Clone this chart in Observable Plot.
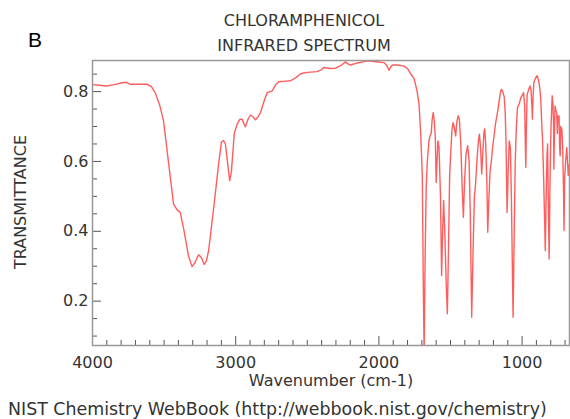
<!DOCTYPE html>
<html><head><meta charset="utf-8">
<script src="https://cdn.jsdelivr.net/npm/d3@7"></script>
<script src="https://cdn.jsdelivr.net/npm/@observablehq/plot@0.6"></script>
<style>
body{margin:0;background:#fff;}
#wrap{position:relative;width:570px;height:419px;overflow:hidden;font-family:"DejaVu Sans",sans-serif;color:#333;}
.t{position:absolute;white-space:nowrap;line-height:16px;font-size:16px;}
#chart{position:absolute;left:0;top:0;}
</style></head><body><div id="wrap">
<div id="chart"></div>
<div class="t" style="left:28px;top:29px;font:21px 'Liberation Sans',sans-serif;line-height:21px;color:#000;">B</div>
<div class="t" style="left:304px;top:13px;transform:translateX(-50%);">CHLORAMPHENICOL</div>
<div class="t" style="left:304px;top:38px;transform:translateX(-50%);">INFRARED SPECTRUM</div>
<div class="t" style="left:331px;top:373px;transform:translateX(-50%);">Wavenumber (cm-1)</div>
<div class="t" style="left:20.5px;top:202px;transform:translate(-50%,-50%) rotate(-90deg);">TRANSMITTANCE</div>
<div class="t" style="left:8px;top:401px;font-size:17.4px;line-height:17px;">NIST Chemistry WebBook (http://webbook.nist.gov/chemistry)</div>
</div>
<script>
const wavenumber = [4000,3950,3900,3850,3783,3760,3736,3680,3620,3590,3562,3530,3504,3470,3434,3410,3387,3360,3330,3305,3285,3259,3240,3219,3205,3189,3150,3120,3100,3085,3072,3055,3042,3030,3010,2990,2970,2955,2940,2932,2915,2897,2880,2862,2845,2827,2800,2780,2745,2720,2699,2650,2617,2580,2547,2500,2431,2400,2385,2340,2303,2260,2233,2215,2198,2150,2081,2030,1990,1965,1945,1930,1915,1906,1870,1825,1800,1778,1755,1735,1720,1708,1697,1690,1684,1678,1670,1662,1650,1643,1635,1628,1621,1614,1606,1600,1594,1588,1580,1570,1562,1555,1548,1540,1530,1522,1514,1506,1499,1490,1482,1475,1464,1455,1446,1438,1428,1418,1410,1402,1392,1380,1370,1362,1352,1342,1333,1325,1316,1305,1298,1290,1282,1275,1266,1261,1254,1246,1240,1233,1224,1215,1206,1196,1185,1170,1160,1150,1144,1135,1125,1118,1112,1105,1098,1090,1082,1075,1063,1055,1048,1040,1032,1020,1009,998,990,982,977,974,970,965,955,945,938,932,928,924,918,910,898,892,885,878,870,862,857,850,838,832,826,822,816,811,805,798,790,784,780,778,774,770,764,758,754,750,742,738,734,730,722,716,710,707,703,696,688,683,678,672,669];
const transmittance = [0.820,0.818,0.816,0.820,0.826,0.826,0.821,0.821,0.821,0.815,0.797,0.760,0.716,0.600,0.478,0.462,0.454,0.400,0.330,0.299,0.310,0.333,0.325,0.305,0.315,0.345,0.480,0.590,0.655,0.660,0.650,0.590,0.545,0.570,0.680,0.707,0.721,0.721,0.705,0.699,0.720,0.733,0.728,0.719,0.727,0.740,0.775,0.797,0.802,0.820,0.828,0.830,0.831,0.840,0.851,0.855,0.857,0.863,0.869,0.866,0.867,0.876,0.885,0.879,0.876,0.882,0.888,0.886,0.884,0.883,0.875,0.861,0.872,0.876,0.876,0.873,0.866,0.851,0.838,0.805,0.765,0.680,0.560,0.250,0.050,0.300,0.520,0.600,0.660,0.673,0.680,0.720,0.740,0.720,0.670,0.540,0.600,0.659,0.640,0.500,0.273,0.400,0.488,0.400,0.250,0.164,0.350,0.560,0.620,0.690,0.711,0.700,0.673,0.715,0.731,0.720,0.650,0.520,0.440,0.540,0.620,0.645,0.600,0.450,0.154,0.350,0.500,0.535,0.600,0.660,0.678,0.640,0.564,0.620,0.685,0.693,0.650,0.540,0.397,0.480,0.569,0.600,0.640,0.673,0.710,0.745,0.775,0.800,0.807,0.800,0.785,0.740,0.650,0.454,0.560,0.659,0.640,0.500,0.154,0.400,0.600,0.700,0.755,0.765,0.783,0.790,0.797,0.760,0.640,0.583,0.700,0.790,0.805,0.816,0.805,0.760,0.721,0.780,0.826,0.835,0.845,0.843,0.830,0.816,0.780,0.700,0.660,0.560,0.345,0.500,0.620,0.650,0.450,0.321,0.550,0.700,0.788,0.760,0.700,0.578,0.680,0.759,0.745,0.740,0.680,0.730,0.730,0.640,0.616,0.700,0.690,0.630,0.500,0.402,0.550,0.600,0.640,0.602,0.560,0.590,0.570];
const xMajorTicks = [4000,3000,2000,1000];
const xMinorTicks = [3900,3800,3700,3600,3500,3400,3300,3200,3100,2900,2800,2700,2600,2500,2400,2300,2200,2100,1900,1800,1700,1600,1500,1400,1300,1200,1100,900,800,700];
const yMajorTicks = [0.2,0.4,0.6,0.8];
const yMinorTicks = [0.1,0.15,0.25,0.3,0.35,0.45,0.5,0.55,0.65,0.7,0.75,0.85];

const data = wavenumber.map((w,i)=>({w, t: transmittance[i]}));
const chart = Plot.plot({
  width: 570, height: 392,
  marginTop: 60, marginBottom: 47, marginLeft: 92, marginRight: 1,
  x: {domain: [4000, 669]},
  y: {domain: [0.073, 0.889]},
  style: {fontFamily: "DejaVu Sans", fontSize: "16px", color: "#333", background: "transparent", overflow: "visible"},
  marks: [
    Plot.line(data, {x: "w", y: "t", stroke: "#ff3535", strokeOpacity: 0.8, strokeWidth: 1.4, clip: true}),
    Plot.axisX(xMinorTicks, {tickSize: -5, tickFormat: () => "", label: null, stroke: "#555"}),
    Plot.axisX(xMajorTicks, {tickSize: -9, tickFormat: () => "", label: null, stroke: "#555"}),
    Plot.axisX(xMajorTicks, {tickSize: 0, tickPadding: 11, tickFormat: d => String(d), label: null, fill: "#333"}),
    Plot.axisY(yMinorTicks, {tickSize: -5, tickFormat: () => "", label: null, stroke: "#555"}),
    Plot.axisY(yMajorTicks, {tickSize: -9, tickFormat: () => "", label: null, stroke: "#555"}),
    Plot.axisY(yMajorTicks, {tickSize: 0, tickPadding: 4, tickFormat: d => d.toFixed(1), label: null, fill: "#333"}),
    Plot.frame({stroke: "#999", strokeWidth: 1.5})
  ]
});
document.getElementById("chart").appendChild(chart);
</script>
</body></html>
